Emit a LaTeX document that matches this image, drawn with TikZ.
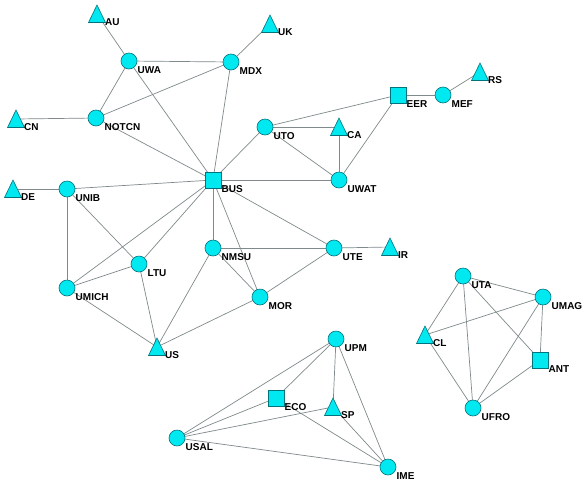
\documentclass[tikz,border=0pt]{standalone}
\usepackage{fontspec}
\setmainfont{Liberation Sans}
\usetikzlibrary{backgrounds}
\definecolor{nodefill}{RGB}{0,232,240}
\definecolor{nodeline}{RGB}{0,115,125}
\definecolor{edgegray}{RGB}{128,138,140}
\tikzset{
  circ/.style={circle, draw=nodeline, fill=nodefill, minimum size=16pt, inner sep=0pt, line width=0.6pt},
  sq/.style={rectangle, draw=nodeline, fill=nodefill, minimum size=16pt, inner sep=0pt, line width=0.6pt},
  trishape/.style={draw=nodeline, fill=nodefill, line width=0.6pt, line join=miter},
  lab/.style={anchor=north west, inner sep=0pt, font=\fontsize{10}{12}\selectfont\bfseries},
  link/.style={draw=edgegray, line width=0.7pt}
}
\newcommand\cnode[4]{\node[circ] (#1) at (#2,#3) {}; \node[lab] (#1lab) at (#2+8.5,#3+5) {#4};}
\newcommand\snode[4]{\node[sq] (#1) at (#2,#3) {}; \node[lab] (#1lab) at (#2+8.5,#3+5) {#4};}
\newcommand\tnode[4]{\coordinate (#1) at (#2,#3);
  \filldraw[trishape] (#2-8.5,#3+8.5) -- (#2+8.5,#3+8.5) -- (#2,#3-9) -- cycle;
  \node[lab] (#1lab) at (#2+8,#3+4) {#4};}
\begin{document}
\begin{tikzpicture}[x=1pt,y=-1pt]
\useasboundingbox (0,0) rectangle (586,480);
% nodes
\tnode{AU}{97}{14}{AU}
\tnode{UK}{270}{24}{UK}
\cnode{UWA}{129}{61}{UWA}
\cnode{MDX}{231}{62}{MDX}
\tnode{CN}{16}{119}{CN}
\cnode{NOTCN}{96}{118}{NOTCN}
\cnode{UTO}{265}{127}{UTO}
\tnode{CA}{339}{127}{CA}
\snode{EER}{398}{95}{EER}
\cnode{MEF}{443}{95}{MEF}
\tnode{RS}{480}{72}{RS}
\snode{BUS}{213}{180}{BUS}
\cnode{UWAT}{339}{180}{UWAT}
\tnode{DE}{13}{189}{DE}
\cnode{UNIB}{67}{189}{UNIB}
\cnode{NMSU}{213}{248}{NMSU}
\cnode{UTE}{334}{248}{UTE}
\tnode{IR}{390}{247}{IR}
\cnode{LTU}{139}{264}{LTU}
\cnode{UMICH}{67}{288}{UMICH}
\cnode{MOR}{260}{297}{MOR}
\tnode{US}{157}{347}{US}
\cnode{UPM}{336}{339}{UPM}
\snode{ECO}{276}{398}{ECO}
\tnode{SP}{333}{407}{SP}
\cnode{USAL}{177}{438}{USAL}
\cnode{IME}{388}{467}{IME}
\cnode{UTA}{463}{276}{UTA}
\cnode{UMAG}{543}{297}{UMAG}
\tnode{CL}{425}{335}{CL}
\snode{ANT}{540}{360}{ANT}
\cnode{UFRO}{473}{408}{UFRO}
% edges
\begin{pgfonlayer}{background}
\fill[white] (0,0) rectangle (586,480);
\foreach \a/\b in {AU/UWA, UK/MDX, UWA/MDX, UWA/NOTCN, UWA/BUS, MDX/NOTCN, MDX/BUS,
  NOTCN/CN, NOTCN/BUS, UTO/BUS, UTO/EER, UTO/CA, UTO/UWAT, CA/UWAT, EER/UWAT,
  EER/MEF, MEF/RS, BUS/UWAT, BUS/UNIB, UNIB/DE, UNIB/UMICH, UNIB/LTU, BUS/UMICH,
  BUS/LTU, BUS/NMSU, BUS/MOR, BUS/UTE, UMICH/LTU, UMICH/US, LTU/US, NMSU/US,
  NMSU/MOR, NMSU/UTE, MOR/US, MOR/UTE, UTE/IR,
  UPM/ECO, UPM/USAL, UPM/SP, UPM/IME, ECO/USAL, ECO/IME, SP/USAL, SP/IME, USAL/IME,
  UTA/UMAG, UTA/CL, UTA/UFRO, UTA/ANT, UMAG/CL, UMAG/ANT, UMAG/UFRO, CL/UFRO, ANT/UFRO}
  \draw[link] (\a.center) -- (\b.center);
\end{pgfonlayer}
\end{tikzpicture}
\end{document}
